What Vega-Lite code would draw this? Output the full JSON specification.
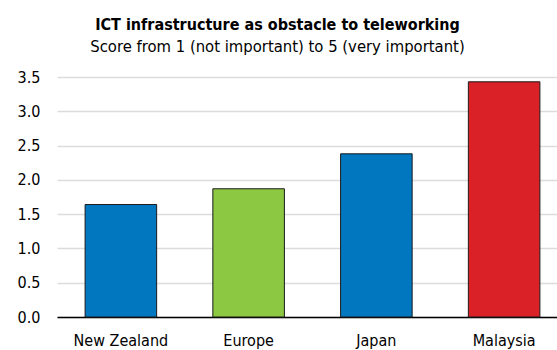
{
  "$schema": "https://vega.github.io/schema/vega-lite/v6.json",
  "autosize": "none",
  "width": 511,
  "height": 240,
  "padding": {"left": 57, "top": 77, "right": 0, "bottom": 33},
  "background": "white",
  "title": {
    "text": "ICT infrastructure as obstacle to teleworking",
    "subtitle": "Score from 1 (not important) to 5 (very important)",
    "anchor": "middle",
    "frame": "group",
    "dx": -35,
    "font": "DejaVu Sans Condensed",
    "fontSize": 16,
    "fontWeight": "bold",
    "color": "#000000",
    "subtitleFont": "DejaVu Sans Condensed",
    "subtitleFontSize": 16.5,
    "subtitleColor": "#000000",
    "subtitlePadding": 6,
    "offset": 14
  },
  "data": {
    "values": [
      {"country": "New Zealand", "score": 1.64, "group": "a"},
      {"country": "Europe", "score": 1.87, "group": "b"},
      {"country": "Japan", "score": 2.38, "group": "a"},
      {"country": "Malaysia", "score": 3.43, "group": "c"}
    ]
  },
  "mark": {"type": "bar", "stroke": "#1a1a1a", "strokeWidth": 1},
  "encoding": {
    "x": {
      "field": "country",
      "type": "nominal",
      "sort": null,
      "scale": {"paddingInner": 0.44, "paddingOuter": 0.22},
      "axis": {
        "title": null,
        "labelAngle": 0,
        "labelFont": "DejaVu Sans Condensed",
        "labelFontSize": 16,
        "labelColor": "#000000",
        "labelPadding": 15,
        "ticks": false,
        "domain": true,
        "domainColor": "#000000",
        "domainWidth": 1.5,
        "grid": false
      }
    },
    "y": {
      "field": "score",
      "type": "quantitative",
      "scale": {"domain": [0, 3.5], "nice": false},
      "axis": {
        "title": null,
        "values": [0, 0.5, 1, 1.5, 2, 2.5, 3, 3.5],
        "format": ".1f",
        "labelFont": "DejaVu Sans Condensed",
        "labelFontSize": 16,
        "labelColor": "#000000",
        "labelPadding": 17,
        "ticks": false,
        "domain": false,
        "grid": true,
        "gridColor": "#dcdcdc",
        "gridWidth": 1.5
      }
    },
    "color": {
      "field": "group",
      "type": "nominal",
      "scale": {"domain": ["a", "b", "c"], "range": ["#0077bf", "#8cc841", "#da2128"]},
      "legend": null
    }
  },
  "config": {"view": {"stroke": null}}
}
